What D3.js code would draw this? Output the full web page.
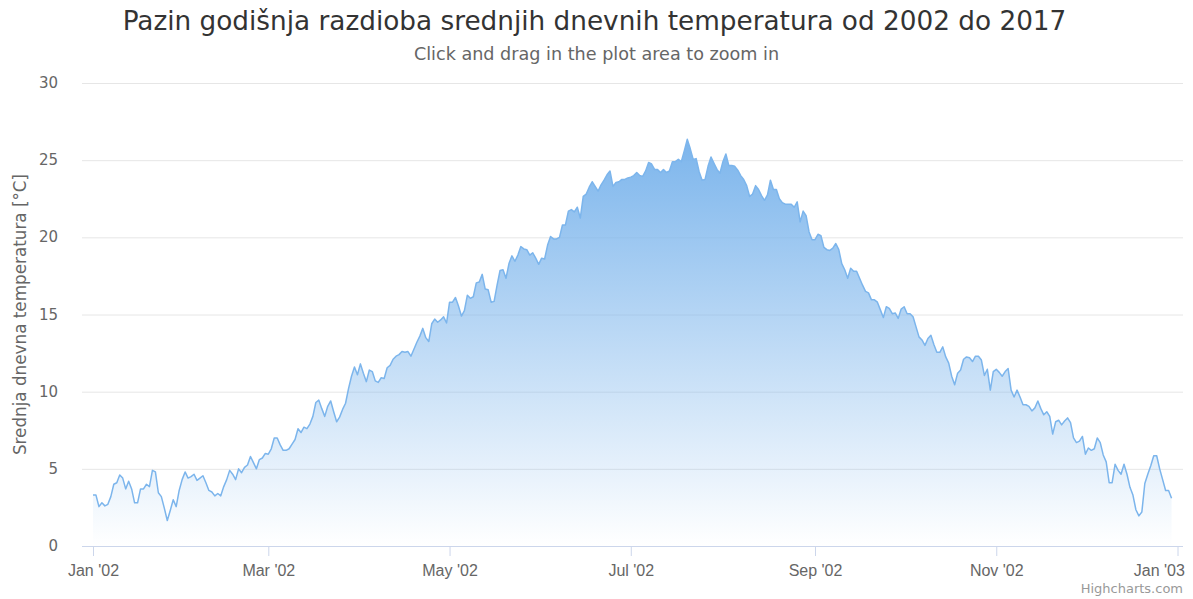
<!DOCTYPE html>
<html>
<head>
<meta charset="utf-8">
<title>Pazin temperature</title>
<style>
  body { margin: 0; background: #fff; }
  svg { font-family: "DejaVu Sans", "Lucida Grande", Arial, sans-serif; }
  .grid line { stroke: #e6e6e6; stroke-width: 1px; }
  .grid path { display: none; }
  .y-axis text { fill: #666; font-size: 15px; }
  .x-axis text { fill: #666; font-size: 16px; }
  .x-axis path, .x-axis line { stroke: #ccd6eb; }
  .series-line { fill: none; stroke: #7cb5ec; stroke-width: 1.5px; stroke-linejoin: round; }
</style>
</head>
<body>
<div id="chart"></div>
<script src="https://cdn.jsdelivr.net/npm/d3@7"></script>
<script>
  // average daily temperature, one value per day starting 1 Jan 2002
  var startDate = new Date(2002, 0, 1);
  var temps = [
    3.3, 3.3, 2.55, 2.8, 2.6, 2.7, 3.2, 4.0, 4.1, 4.6,
    4.4, 3.7, 4.2, 3.7, 2.8, 2.8, 3.7, 3.7, 4.0, 3.85,
    4.9, 4.8, 3.45, 3.2, 2.45, 1.65, 2.3, 3.0, 2.55, 3.6,
    4.3, 4.8, 4.4, 4.5, 4.65, 4.25, 4.4, 4.55, 4.1, 3.6,
    3.5, 3.25, 3.4, 3.25, 3.85, 4.3, 4.9, 4.65, 4.3, 5.0,
    4.75, 5.1, 5.25, 5.8, 5.4, 5.0, 5.6, 5.7, 6.0, 5.95,
    6.3, 7.0, 7.0, 6.55, 6.2, 6.2, 6.3, 6.6, 6.9, 7.6,
    7.35, 7.7, 7.6, 7.9, 8.4, 9.3, 9.45, 8.9, 8.4, 9.05,
    9.4, 8.7, 8.05, 8.35, 8.85, 9.25, 10.2, 11.0, 11.6, 11.1,
    11.8, 11.2, 10.65, 11.4, 11.3, 10.7, 10.6, 10.9, 10.85, 11.55,
    11.7, 12.1, 12.3, 12.4, 12.6, 12.55, 12.6, 12.3, 12.75, 13.2,
    13.6, 14.1, 13.5, 13.25, 14.4, 14.7, 14.5, 14.65, 14.85, 14.45,
    15.8, 15.8, 16.1, 15.55, 14.9, 15.25, 16.25, 16.05, 16.15, 17.05,
    17.1, 17.6, 16.65, 16.6, 15.8, 15.85, 16.9, 17.85, 17.9, 17.35,
    18.3, 18.8, 18.45, 18.85, 19.4, 19.25, 19.2, 18.85, 19.0, 18.65,
    18.25, 18.65, 18.6, 19.5, 20.05, 19.9, 19.9, 20.0, 20.8, 20.8,
    21.7, 21.8, 21.65, 21.95, 21.25, 22.65, 22.8, 23.25, 23.6, 23.3,
    23.0, 23.4, 23.7, 24.05, 24.3, 23.3, 23.55, 23.6, 23.75, 23.75,
    23.85, 23.9, 24.0, 24.2, 24.0, 23.95, 24.3, 24.85, 24.75, 24.4,
    24.4, 24.2, 24.4, 24.2, 24.3, 24.9, 24.9, 25.05, 24.9, 25.6,
    26.35, 25.75, 25.05, 25.1, 24.25, 23.7, 23.75, 24.6, 25.2, 24.8,
    24.4, 24.15, 24.9, 25.4, 24.65, 24.65, 24.6, 24.35, 24.0, 23.75,
    23.35, 22.65, 22.8, 23.35, 23.1, 22.7, 22.4, 22.75, 23.7, 23.1,
    23.1, 22.5, 22.25, 22.15, 22.15, 22.15, 21.95, 22.3, 21.0, 21.7,
    21.4, 20.35, 19.85, 19.85, 20.2, 20.1, 19.35, 19.2, 19.15, 19.3,
    19.6, 19.2, 18.3, 17.9, 17.35, 18.0, 17.8, 17.8, 17.35, 16.9,
    16.5, 16.4, 15.95, 15.95, 15.8, 15.3, 14.8, 15.5, 15.4, 15.05,
    15.1, 14.75, 15.35, 15.5, 15.05, 15.05, 14.85, 14.2, 13.55, 13.35,
    13.0, 13.45, 13.65, 13.05, 12.55, 12.55, 12.9, 12.25, 11.85, 11.0,
    10.45, 11.2, 11.4, 12.1, 12.25, 12.2, 11.95, 12.3, 12.3, 12.05,
    11.05, 11.45, 10.1, 11.3, 11.45, 11.25, 11.0, 11.3, 11.5, 10.1,
    9.65, 10.1, 9.65, 9.15, 9.15, 9.05, 8.75, 8.95, 9.4, 8.9,
    8.5, 8.7, 8.4, 7.25, 8.05, 8.15, 7.85, 8.1, 8.3, 8.0,
    7.0, 6.7, 6.8, 7.1, 5.95, 6.35, 6.2, 6.3, 7.0, 6.7,
    5.9, 5.45, 4.1, 4.1, 5.3, 4.9, 4.65, 5.3, 4.65, 3.8,
    3.3, 2.35, 1.95, 2.2, 4.05, 4.65, 5.2, 5.85, 5.85, 5.0,
    4.3, 3.6, 3.6, 3.1
  ];
  var yTicks = [0, 5, 10, 15, 20, 25, 30];
  var xTicks = [
    new Date(2002, 0, 1), new Date(2002, 2, 1), new Date(2002, 4, 1),
    new Date(2002, 6, 1), new Date(2002, 8, 1), new Date(2002, 10, 1),
    new Date(2003, 0, 1)
  ];
  var titleText = "Pazin godišnja razdioba srednjih dnevnih temperatura od 2002 do 2017";
  var subtitleText = "Click and drag in the plot area to zoom in";
  var yTitleText = "Srednja dnevna temperatura [°C]";
  var creditText = "Highcharts.com";

  var width = 1193,
      height = 599,
      plotLeft = 82,
      plotRight = 1183,
      plotTop = 83,
      plotBottom = 546;

  var data = temps.map(function (t, i) {
    return { date: d3.timeDay.offset(startDate, i), value: t };
  });

  var x = d3.scaleTime()
      .domain([xTicks[0], xTicks[xTicks.length - 1]])
      .range([93, 1177.5]);

  var y = d3.scaleLinear()
      .domain([0, 30])
      .range([plotBottom, plotTop]);

  var svg = d3.select("#chart").append("svg")
      .attr("width", width)
      .attr("height", height);

  // gradient fill, Highcharts style
  var grad = svg.append("defs").append("linearGradient")
      .attr("id", "areaFill")
      .attr("x1", 0).attr("y1", 0).attr("x2", 0).attr("y2", 1);
  grad.append("stop").attr("offset", "0%").attr("stop-color", "#7cb5ec").attr("stop-opacity", 1);
  grad.append("stop").attr("offset", "100%").attr("stop-color", "#7cb5ec").attr("stop-opacity", 0);

  // horizontal grid
  svg.append("g")
      .attr("class", "grid")
      .attr("transform", "translate(" + plotLeft + ",0)")
      .call(d3.axisLeft(y).tickValues(yTicks.slice(1)).tickSize(-(plotRight - plotLeft)).tickFormat(""));

  // y labels
  svg.append("g")
      .attr("class", "y-axis")
      .selectAll("text")
      .data(yTicks)
      .enter().append("text")
      .attr("x", 58)
      .attr("y", function (d) { return y(d) + 5; })
      .attr("text-anchor", "end")
      .text(function (d) { return d; });

  // area and line
  var area = d3.area()
      .x(function (d) { return x(d.date); })
      .y0(y(0))
      .y1(function (d) { return y(d.value); });

  var line = d3.line()
      .x(function (d) { return x(d.date); })
      .y(function (d) { return y(d.value); });

  svg.append("path")
      .datum(data)
      .attr("d", area)
      .attr("fill", "url(#areaFill)");

  svg.append("path")
      .datum(data)
      .attr("class", "series-line")
      .attr("d", line);

  // x axis
  var xAxisG = svg.append("g")
      .attr("class", "x-axis")
      .attr("transform", "translate(0," + plotBottom + ")")
      .call(d3.axisBottom(x).tickValues(xTicks).tickSize(10).tickSizeOuter(0).tickPadding(8)
            .tickFormat(d3.timeFormat("%b '%y")));

  xAxisG.select(".domain").attr("d", "M" + plotLeft + ",0.5H" + plotRight);
  xAxisG.selectAll("text").attr("dy", "0.75em");

  // keep last label inside the chart like Highcharts does
  xAxisG.selectAll(".tick text").each(function () {
    var box = this.getBBox();
    var tx = +this.parentNode.getAttribute("transform").match(/translate\(([^,]+)/)[1];
    var overflow = tx + box.x + box.width - (width - 8);
    if (overflow > 0) d3.select(this).attr("x", -overflow);
  });

  // titles
  svg.append("text")
      .attr("x", width / 2 - 2)
      .attr("y", 30)
      .attr("text-anchor", "middle")
      .style("font-size", "26.3px")
      .style("fill", "#333")
      .text(titleText);

  svg.append("text")
      .attr("x", width / 2)
      .attr("y", 60)
      .attr("text-anchor", "middle")
      .style("font-size", "17.6px")
      .style("fill", "#666")
      .text(subtitleText);

  svg.append("text")
      .attr("transform", "translate(26," + ((plotTop + plotBottom) / 2) + ") rotate(-90)")
      .attr("text-anchor", "middle")
      .style("font-size", "16.8px")
      .style("fill", "#666")
      .text(yTitleText);

  svg.append("text")
      .attr("x", plotRight)
      .attr("y", 593)
      .attr("text-anchor", "end")
      .style("font-size", "13px")
      .style("fill", "#999")
      .text(creditText);
</script>
</body>
</html>
